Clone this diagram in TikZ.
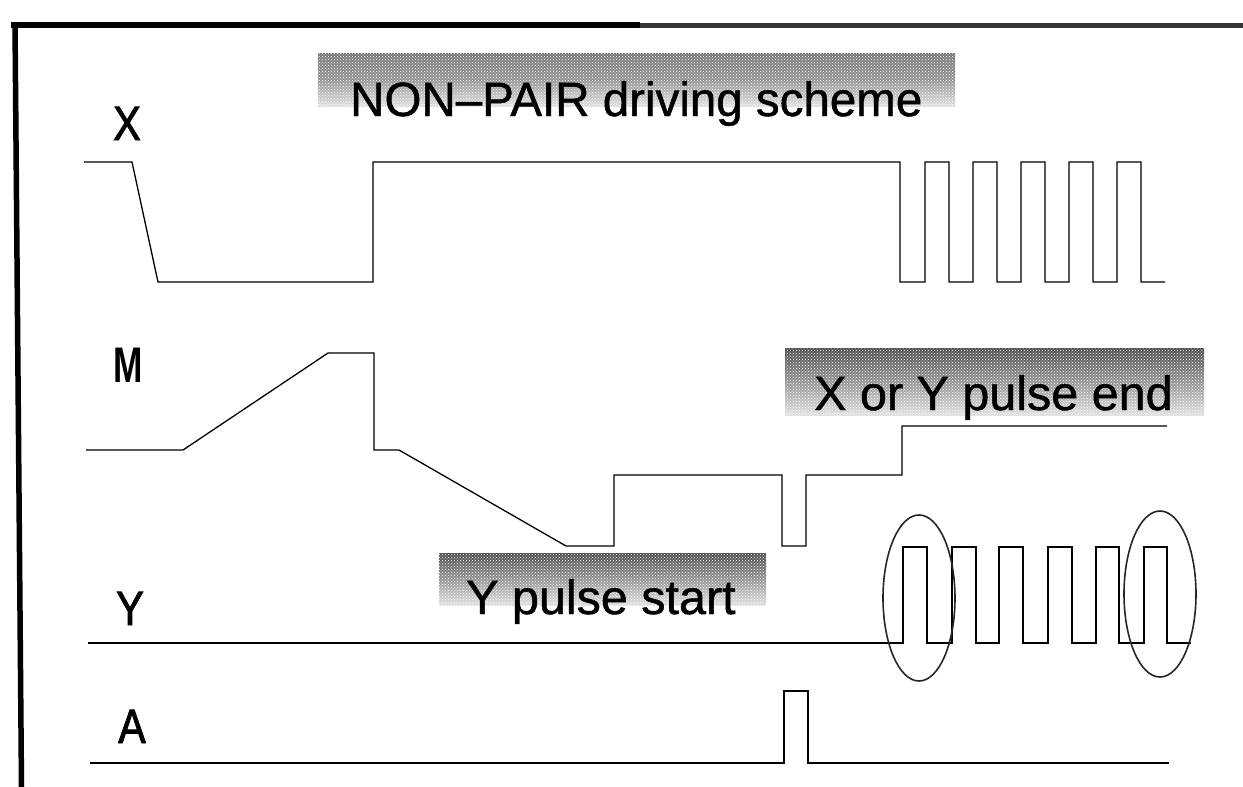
\documentclass[tikz,border=0pt]{standalone}
\usepackage{fontspec}
\setmainfont{Liberation Sans}
\newfontfamily\medfont[FakeBold=1.0]{Liberation Sans}
\newfontfamily\heavyfont[FakeBold=2.0]{Liberation Sans}
\usetikzlibrary{patterns}
\definecolor{hdark}{gray}{0.30}
\definecolor{hmid}{gray}{0.58}
\definecolor{hlight}{gray}{0.88}
\tikzset{
  x=1pt,y=-1pt,
  wave/.style={draw=black,line width=1.3pt,line join=miter},
  circ/.style={draw=black!85,line width=1.6pt},
  frameline/.style={line width=5.5pt,draw=black},
  sig/.style={font=\fontsize{48}{48}\selectfont\heavyfont,inner sep=0pt,anchor=base,xscale=0.86},
  bandtext/.style={font=\fontsize{48}{48}\selectfont\medfont,inner sep=0pt,anchor=base west,text=black},
}
\begin{document}
\begin{tikzpicture}
\useasboundingbox (0,0) rectangle (1243,787);
\fill[white] (0,0) rectangle (1243,787);
% frame
\draw[frameline] (11,25) -- (640,25);
\draw[draw=black!80,line width=5pt] (640,25) -- (1243,25);
\draw[frameline] (15,23) -- (21.5,787);
% shaded bands
\shade[top color=hmid!80!black,bottom color=hlight,middle color=hmid] (318,53) rectangle (955,106);
\pattern[pattern=crosshatch dots,pattern color=white] (318,53) rectangle (955,106);
\shade[top color=hdark,bottom color=hlight,middle color=hmid] (785,348) rectangle (1204,415);
\pattern[pattern=crosshatch dots,pattern color=white] (785,348) rectangle (1204,415);
\shade[top color=hdark,bottom color=hlight,middle color=hmid] (439,553) rectangle (766,605);
\pattern[pattern=crosshatch dots,pattern color=white] (439,553) rectangle (766,605);
% band texts
\node[bandtext,xscale=0.99] (title) at (350,116) {NON–PAIR driving scheme};
\node[bandtext,xscale=1.01] (endlbl) at (814,410) {X or Y pulse end};
\node[bandtext,xscale=1.01] (startlbl) at (466,614) {Y pulse start};
% signal names
\node[sig] (lx) at (127,140) {X};
\node[sig,font=\fontsize{50}{50}\selectfont\rmfamily\bfseries,xscale=0.82] (lm) at (128.5,382) {M};
\node[sig] (ly) at (130,625) {Y};
\node[sig] (la) at (132,743) {A};
% X
\draw[wave] (84,162) -- (132,162) -- (158,282) -- (373,282) -- (373,162) -- (900,162)
  -- (900,282) -- (925,282) -- (925,162) -- (949,162) -- (949,282) -- (973,282)
  -- (973,162) -- (997,162) -- (997,282) -- (1021,282) -- (1021,162) -- (1045,162)
  -- (1045,282) -- (1069,282) -- (1069,162) -- (1093,162) -- (1093,282) -- (1117,282)
  -- (1117,162) -- (1141,162) -- (1141,282) -- (1165,282);
% M
\draw[wave] (86,450) -- (183,450) -- (328,353) -- (374,353) -- (374,450) -- (399,450)
  -- (566,546) -- (614,546) -- (614,475) -- (782,475) -- (782,546) -- (806,546)
  -- (806,475) -- (902,475) -- (902,426) -- (1167,426);
% Y
\draw[wave] (88,643) -- (903,643) -- (903,547) -- (927,547) -- (927,643) -- (952,643)
  -- (952,547) -- (976,547) -- (976,643) -- (999,643) -- (999,547) -- (1023,547)
  -- (1023,643) -- (1048,643) -- (1048,547) -- (1072,547) -- (1072,643) -- (1096,643)
  -- (1096,547) -- (1119,547) -- (1119,643) -- (1144,643) -- (1144,547) -- (1167,547)
  -- (1167,643) -- (1191,643);
% A
\draw[wave] (90,763) -- (784,763) -- (784,691) -- (808,691) -- (808,763) -- (1169,763);
% ellipses
\draw[circ] (919,598) ellipse [x radius=36,y radius=83];
\draw[circ] (1160,594) ellipse [x radius=36,y radius=83];
\end{tikzpicture}
\end{document}
